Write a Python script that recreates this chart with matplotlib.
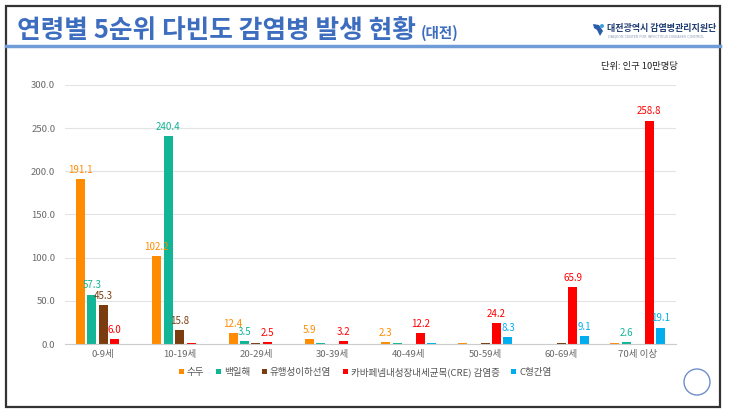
import matplotlib.pyplot as plt
import numpy as np
from matplotlib.patches import Rectangle, Ellipse, Polygon
from matplotlib.lines import Line2D

plt.rcParams['font.family'] = ['Noto Sans CJK KR', 'DejaVu Sans']

# 연령대별 발생률 (인구 10만명당)
age_groups = ['0-9세', '10-19세', '20-29세', '30-39세', '40-49세', '50-59세', '60-69세', '70세 이상']
diseases = ['수두', '백일해', '유행성이하선염', '카바페넴내성장내세균목(CRE) 감염증', 'C형간염']
chickenpox = [191.1, 102.2, 12.4, 5.9, 2.3, 0.7, 0.2, 1.2]
pertussis = [57.3, 240.4, 3.5, 0.6, 0.8, 0.3, 0.3, 2.6]
mumps = [45.3, 15.8, 0.7, 0.0, 0.4, 0.7, 0.9, 0.0]
cre = [6.0, 1.2, 2.5, 3.2, 12.2, 24.2, 65.9, 258.8]
hep_c = [0.0, 0.0, 0.5, 0.5, 1.5, 8.3, 9.1, 19.1]

series = [chickenpox, pertussis, mumps, cre, hep_c]
colors = ['#ff8c00', '#12b596', '#7b3c0f', '#ff0000', '#00aeef']

W, H = 730, 415


def fx(px):
    return px / W


def fy(py):
    return 1 - py / H


fig = plt.figure(figsize=(7.3, 4.15), dpi=100)
fig.patch.set_facecolor('white')

# frame and header
fig.add_artist(Rectangle((fx(6), fy(407)), fx(714), 401 / H, transform=fig.transFigure,
                         fill=False, edgecolor='#333333', linewidth=1.6))
fig.add_artist(Line2D([fx(6), fx(720)], [fy(46)] * 2, transform=fig.transFigure,
                      color='#6f9bd6', linewidth=2.5))
fig.text(fx(17), fy(31), '연령별 5순위 다빈도 감염병 발생 현황', fontsize=18.5, fontweight='bold',
         color='#3d6dbf', va='center', ha='left')
fig.text(fx(421), fy(33), '(대전)', fontsize=10.5, fontweight='bold',
         color='#3d6dbf', va='center', ha='left')
# small logo mark
fig.add_artist(Polygon([(fx(593), fy(24)), (fx(599), fy(25)), (fx(603), fy(31)), (fx(600), fy(36)),
                        (fx(597), fy(30)), (fx(594), fy(28))], closed=True, transform=fig.transFigure,
                       facecolor='#2a5caa', edgecolor='none'))
fig.add_artist(Ellipse((fx(602), fy(26)), fx(4), 4 / H, transform=fig.transFigure,
                       facecolor='#3ba0d8', edgecolor='none'))
fig.text(fx(607), fy(29), '대전광역시 감염병관리지원단', fontsize=6.5, fontweight='bold',
         color='#1f3c73', va='center', ha='left')
fig.text(fx(608), fy(37), 'DAEJEON CENTER FOR INFECTIOUS DISEASES CONTROL', fontsize=2.4,
         color='#8a9bb8', va='center', ha='left', family=['DejaVu Sans'])
fig.text(fx(678), fy(67), '단위: 인구 10만명당', fontsize=6.7, fontweight='medium',
         color='#222222', va='center', ha='right')
fig.add_artist(Ellipse((fx(697), fy(382)), fx(26), 26 / H, transform=fig.transFigure,
                       fill=False, edgecolor='#6f8fc8', linewidth=1))

ax = fig.add_axes([fx(65), fy(344), fx(611), 259 / H])
x = np.arange(len(age_groups))
step = 0.15
width = 0.118
for i, (vals, c, name) in enumerate(zip(series, colors, diseases)):
    pos = x + (i - 2) * step
    bars = ax.bar(pos, vals, width, color=c, label=name, zorder=3)
    for b, v in zip(bars, vals):
        if v >= 2:
            ax.annotate(f'{v:.1f}', (b.get_x() + b.get_width() / 2, v), xytext=(0, 3),
                        textcoords='offset points', ha='center', va='bottom',
                        fontsize=7, color=c, fontweight='medium', zorder=6)

ax.set_xlim(-0.5, len(age_groups) - 0.5)
ax.set_ylim(0, 300)
ax.set_yticks(np.arange(0, 301, 50))
ax.set_yticklabels([f'{t:.1f}' for t in np.arange(0, 301, 50)])
ax.set_xticks(x)
ax.set_xticklabels(age_groups)
ax.tick_params(axis='both', length=0, labelsize=6.9, labelcolor='#6a6a6a')
ax.tick_params(axis='y', pad=7)
ax.tick_params(axis='x', pad=4)
ax.grid(axis='y', color='#e3e3e3', linewidth=0.8, zorder=0)
for s in ['top', 'right', 'left']:
    ax.spines[s].set_visible(False)
ax.spines['bottom'].set_color('#cccccc')
ax.spines['bottom'].set_zorder(4)

handles, labels = ax.get_legend_handles_labels()
fig.legend(handles, labels, loc='center', bbox_to_anchor=(0.5, fy(372)), ncol=5,
           frameon=False, fontsize=6.9, handlelength=0.55, handleheight=0.55,
           handletextpad=0.3, columnspacing=1.2, labelcolor='#555555')

fig.savefig('out.png', dpi=100)
